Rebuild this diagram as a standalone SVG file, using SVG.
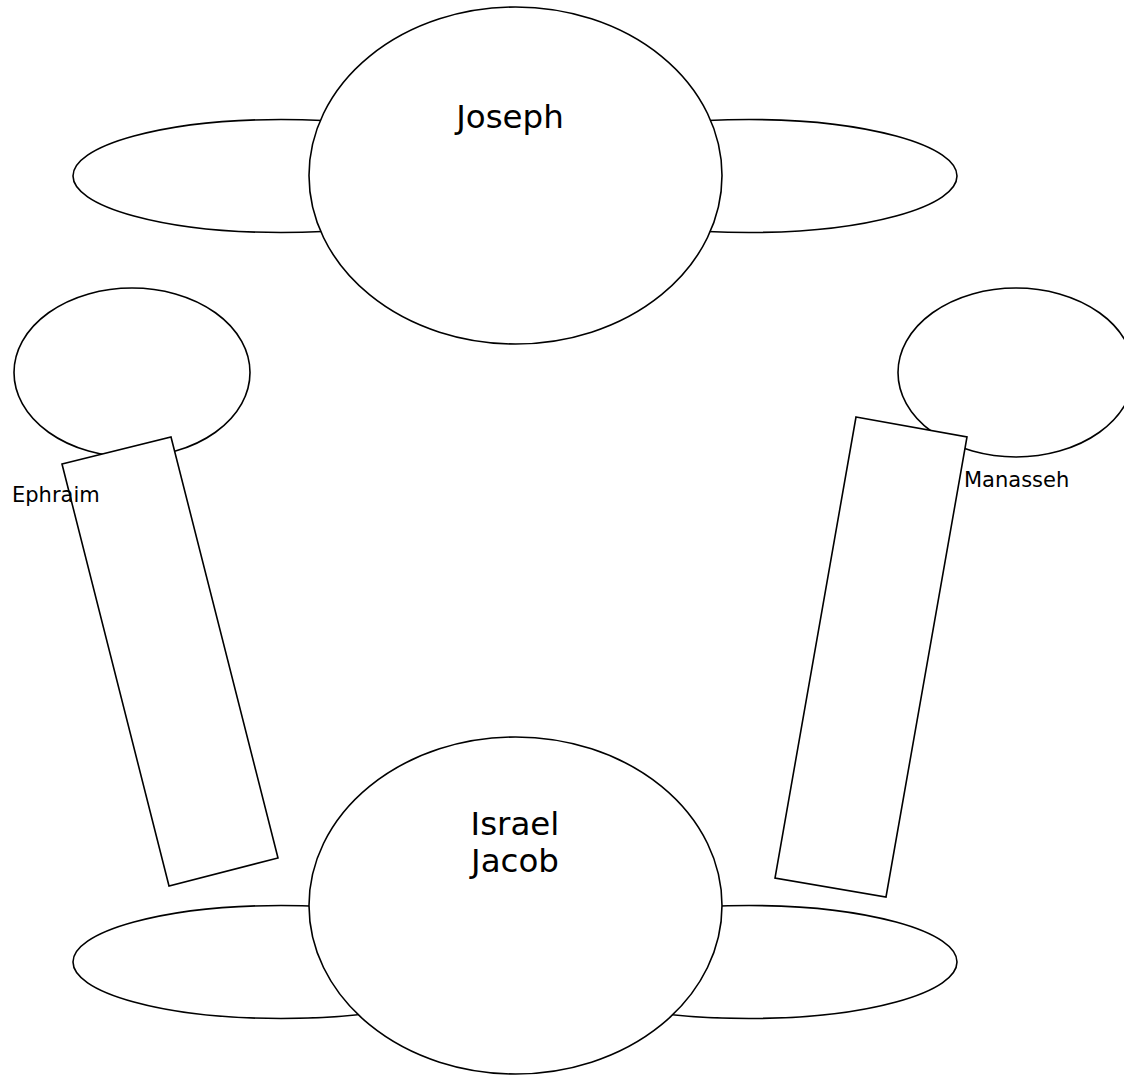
<svg xmlns="http://www.w3.org/2000/svg" width="1124" height="1075" viewBox="0 0 1124 1075">
<style>
.s{fill:#fff;stroke:#000;stroke-width:1.6}
.t{font-family:"DejaVu Sans",Verdana,sans-serif;fill:#000}
.big{font-size:32.5px;text-anchor:middle}
.sm{font-size:21px}
</style>
<rect width="1124" height="1075" fill="#fff"/>
<g id="joseph">
<ellipse class="s" cx="281" cy="176" rx="208" ry="56.5"/>
<ellipse class="s" cx="749" cy="176" rx="208" ry="56.5"/>
<ellipse class="s" cx="515.5" cy="175.5" rx="206.5" ry="168.5"/>
<text class="t big" x="510" y="128">Joseph</text>
</g>
<g id="israel">
<ellipse class="s" cx="281" cy="962" rx="208" ry="56.5"/>
<ellipse class="s" cx="749" cy="962" rx="208" ry="56.5"/>
<ellipse class="s" cx="515.5" cy="905.5" rx="206.5" ry="168.5"/>
<text class="t big" x="515" y="835">Israel</text>
<text class="t big" x="515" y="872">Jacob</text>
</g>
<g id="ephraim">
<ellipse class="s" cx="132" cy="372.5" rx="118" ry="84.5"/>
<polygon class="s" points="62,464 171,437 278,858 169,886"/>
<text class="t sm" x="12" y="502">Ephraim</text>
</g>
<g id="manasseh">
<ellipse class="s" cx="1016" cy="372.5" rx="118" ry="84.5"/>
<polygon class="s" points="856,417 967,437 886,897 775,878"/>
<text class="t sm" x="964" y="487">Manasseh</text>
</g>
</svg>
